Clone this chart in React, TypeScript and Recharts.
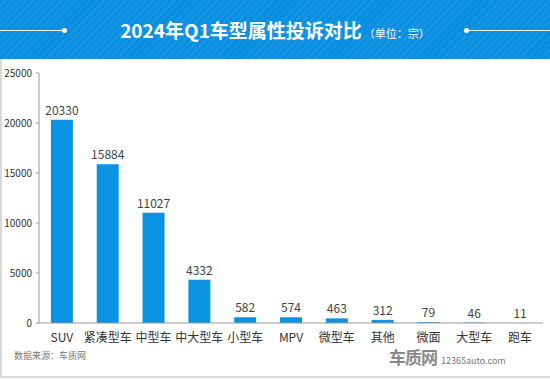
import { BarChart, Bar, XAxis, YAxis, LabelList } from 'recharts';

const categories = ['SUV', '紧凑型车', '中型车', '中大型车', '小型车', 'MPV', '微型车', '其他', '微面', '大型车', '跑车'];
const complaints = [20330, 15884, 11027, 4332, 582, 574, 463, 312, 79, 46, 11];
const yTicks = [0, 5000, 10000, 15000, 20000, 25000];

const data = categories.map((name, i) => ({ name, value: complaints[i] }));

const font = '"Noto Sans CJK SC", "Noto Sans", sans-serif';

export default function App() {
    return (
        <div style={{ position: 'relative', width: 550, height: 380, fontFamily: font, background: '#fff' }}>
            <style>{`body{margin:0}`}</style>

            {/* header band */}
            <div
                style={{
                    position: 'absolute',
                    left: 0,
                    top: 0,
                    width: 550,
                    height: 59,
                    background: 'repeating-linear-gradient(135deg, #0a8fe0 0px, #0a8fe0 3px, #1596e4 3px, #1596e4 5px)',
                }}
            />
            <div style={{ position: 'absolute', left: 0, top: 30, width: 65, height: 1, background: '#fff' }} />
            <div style={{ position: 'absolute', left: 62, top: 28, width: 5, height: 5, borderRadius: 3, background: '#fff' }} />
            <div style={{ position: 'absolute', left: 466, top: 30, width: 84, height: 1, background: '#fff' }} />
            <div style={{ position: 'absolute', left: 464, top: 28, width: 5, height: 5, borderRadius: 3, background: '#fff' }} />
            <div
                style={{
                    position: 'absolute',
                    left: 0,
                    top: 15,
                    width: 550,
                    textAlign: 'center',
                    color: '#fff',
                    lineHeight: '30px',
                    whiteSpace: 'nowrap',
                }}
            >
                <span style={{ fontSize: 19, fontWeight: 700 }}>2024年Q1车型属性投诉对比</span>
                <span style={{ fontSize: 11, marginLeft: 2 }}>（单位：宗）</span>
            </div>

            {/* frame */}
            <div
                style={{
                    position: 'absolute',
                    left: 0,
                    top: 59,
                    width: 548,
                    height: 317,
                    borderLeft: '2px solid #d9d9d9',
                    borderRight: '1px solid #d9d9d9',
                    borderBottom: '2px solid #d9d9d9',
                    boxSizing: 'content-box',
                }}
            />

            <div style={{ position: 'absolute', left: 0, top: 0 }}>
                <BarChart
                    width={550}
                    height={380}
                    data={data}
                    margin={{ top: 73, right: 7, bottom: 27, left: 4 }}
                    barCategoryGap="26%"
                >
                    <XAxis
                        dataKey="name"
                        interval={0}
                        tickLine={false}
                        axisLine={{ stroke: '#999' }}
                        tick={{ fill: '#333', fontSize: 12, fontFamily: font }}
                        tickMargin={4}
                    />
                    <YAxis
                        width={35}
                        domain={[0, 25000]}
                        ticks={yTicks}
                        interval={0}
                        axisLine={{ stroke: '#999' }}
                        tickLine={{ stroke: '#999' }}
                        tickSize={3}
                        tickMargin={4}
                        tick={{ fill: '#333', fontSize: 10, fontFamily: font }}
                    />
                    <Bar dataKey="value" fill="#0b93e3" isAnimationActive={false}>
                        <LabelList
                            dataKey="value"
                            position="top"
                            offset={5}
                            style={{ fill: '#444', fontSize: 12, fontFamily: font }}
                        />
                    </Bar>
                </BarChart>
            </div>

            {/* footer */}
            <div style={{ position: 'absolute', left: 14, top: 349, fontSize: 9, color: '#777' }}>数据来源：车质网</div>
            <div style={{ position: 'absolute', left: 389, top: 344, whiteSpace: 'nowrap', color: '#888' }}>
                <span style={{ fontSize: 17, fontWeight: 700, letterSpacing: -1, color: '#8a8a8a' }}>车质网</span>
                <span style={{ fontSize: 9, marginLeft: 4, color: '#777' }}>12365auto.com</span>
            </div>
        </div>
    );
}
